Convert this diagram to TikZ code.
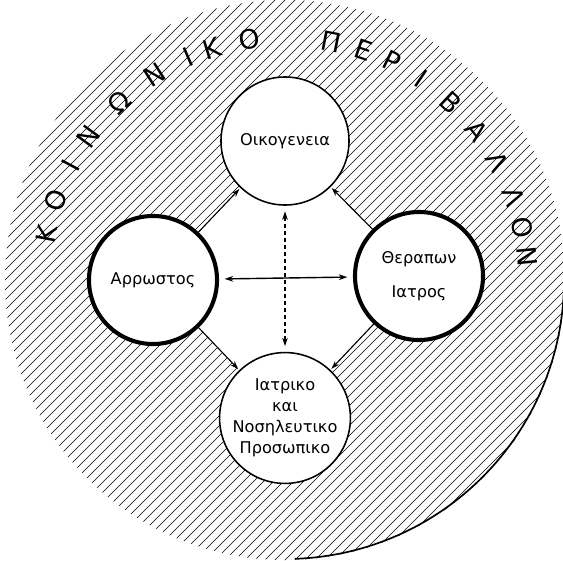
\documentclass[tikz,border=0pt]{standalone}
\usepackage{fontspec}
\setmainfont{DejaVu Sans}
\usepackage{tikz}
\usetikzlibrary{arrows.meta, backgrounds}
\tikzset{
  person/.style={
    circle, draw, fill=white, minimum size=3.2cm,
    inner sep=0pt, align=center, font=\fontsize{11.5}{15}\selectfont
  },
  side/.style={person, line width=1.1pt},
  core/.style={person, line width=2.9pt},
  arr/.style={-{Stealth[length=6pt,width=4pt]}, line width=0.8pt},
  darr/.style={{Stealth[length=6pt,width=4pt]}-{Stealth[length=6pt,width=4pt]},
               line width=0.8pt, densely dashed},
  harr/.style={darr, solid, line width=1pt},
  ringtxt/.style={font=\fontsize{19}{22}\selectfont, inner sep=0pt},
  hatch/.style={line width=0.45pt},
  rim/.style={line width=1.2pt}
}

\begin{document}
\begin{tikzpicture}[x=0.025cm, y=0.025cm]
  \useasboundingbox (-285,-280) rectangle (278,280);

  \node[side] (fam)   at (0,139)   {Οικογενεια};
  \node[core] (pat)   at (-132,0)  {Αρρωστος};
  \node[core] (doc)   at (134,4)   {Θεραπων\\[9pt]Ιατρος};
  \node[side] (staff) at (0,-138)  {Ιατρικο\\και\\Νοσηλευτικο\\Προσωπικο};

  \draw[harr, shorten <=4pt, shorten >=4pt] (pat) -- (doc);
  \draw[darr, shorten <=4pt, shorten >=4pt] (fam) -- (staff);
  \draw[arr, shorten >=1pt] (pat) -- (fam);
  \draw[arr, shorten >=1pt] (doc) -- (fam);
  \draw[arr, shorten >=1pt] (pat) -- (staff);
  \draw[arr, shorten >=1pt] (doc) -- (staff);

  %% κοινωνικο περιβαλλον
  \foreach \ch/\ang [count=\i] in {Κ/169, Ο/161, Ι/152, Ν/144, Ω/133, Ν/122.5,
      Ι/113.5, Κ/107.5, Ο/98.5, Π/79, Ε/71, Ρ/64, Ι/56, Β/47, Α/38,
      Λ/29, Λ/20, Ο/12.5, Ν/5.5}
    \node[ringtxt, rotate=\ang-90] (ch\i) at (\ang:243) {\ch};

  \draw[rim] (2:279) arc[start angle=2, end angle=-88, radius=279];

  %% διαγραμμιση
  \begin{scope}[on background layer]
    \begin{scope}
      \clip (0,0) circle (280);
      \foreach \c in {-560,-550,...,560}
        \draw[hatch] (\c-300,-300) -- (\c+300,300);
    \end{scope}
    \fill[white] (fam.center) -- (doc.center) -- (staff.center)
                 -- (pat.center) -- cycle;
  \end{scope}

\end{tikzpicture}
\end{document}
